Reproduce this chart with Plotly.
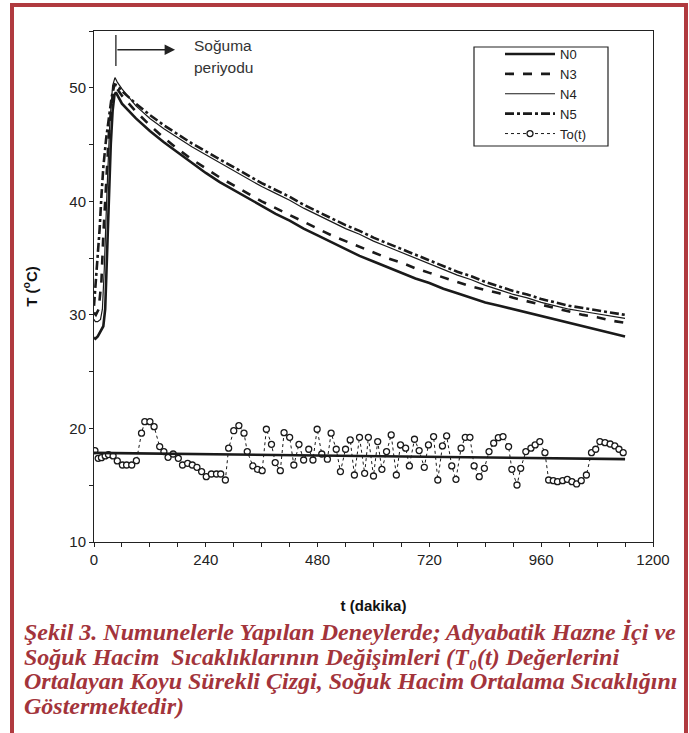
import plotly.graph_objects as go

# ---------------- data ----------------
n0_t = [0, 3, 8, 14, 20, 24, 28, 32, 36, 40, 44, 47, 60, 90, 120, 150, 180, 210, 240, 270, 300, 330, 360, 390, 420, 450, 480, 510, 540, 570, 600, 630, 660, 690, 720, 750, 780, 810, 840, 870, 900, 930, 960, 990, 1020, 1050, 1080, 1110, 1140]
n0_v = [28.0, 27.9, 28.1, 28.5, 29.0, 30.5, 36.0, 41.0, 45.0, 48.0, 49.4, 49.6, 48.6, 47.3, 46.2, 45.2, 44.3, 43.4, 42.5, 41.7, 41.0, 40.3, 39.6, 38.9, 38.3, 37.6, 37.0, 36.4, 35.8, 35.2, 34.7, 34.2, 33.7, 33.2, 32.8, 32.3, 31.9, 31.5, 31.1, 30.8, 30.5, 30.2, 29.9, 29.6, 29.3, 29.0, 28.7, 28.4, 28.1]

n3_t = [0, 4, 10, 16, 20, 26, 32, 38, 44, 48, 60, 90, 120, 150, 180, 210, 240, 270, 300, 330, 360, 390, 420, 450, 480, 510, 540, 570, 600, 630, 660, 690, 720, 750, 780, 810, 840, 870, 900, 930, 960, 990, 1020, 1050, 1080, 1110, 1140]
n3_v = [30.2, 30.0, 30.5, 33.0, 37.0, 42.0, 46.0, 48.5, 49.8, 50.0, 49.3, 47.9, 46.7, 45.6, 44.6, 43.7, 42.9, 42.1, 41.4, 40.7, 40.0, 39.4, 38.8, 38.2, 37.6, 37.0, 36.5, 36.0, 35.5, 35.0, 34.6, 34.1, 33.7, 33.3, 32.9, 32.5, 32.2, 31.9, 31.5, 31.2, 30.9, 30.6, 30.3, 30.0, 29.8, 29.5, 29.3]

n4_t = [0, 3, 8, 14, 18, 22, 28, 34, 40, 45, 50, 60, 90, 120, 150, 180, 210, 240, 270, 300, 330, 360, 390, 420, 450, 480, 510, 540, 570, 600, 630, 660, 690, 720, 750, 780, 810, 840, 870, 900, 930, 960, 990, 1020, 1050, 1080, 1110, 1140]
n4_v = [29.6, 29.4, 29.4, 29.6, 30.5, 34.0, 41.0, 47.0, 50.2, 50.9, 50.5, 49.9, 48.4, 47.3, 46.4, 45.6, 44.8, 44.1, 43.4, 42.7, 42.0, 41.3, 40.7, 40.1, 39.4, 38.8, 38.2, 37.6, 37.1, 36.5, 36.0, 35.5, 35.0, 34.5, 34.0, 33.5, 33.1, 32.6, 32.2, 31.8, 31.5, 31.1, 30.8, 30.5, 30.3, 30.1, 29.9, 29.7]

n5_t = [0, 4, 8, 12, 16, 20, 26, 32, 38, 44, 50, 60, 90, 120, 150, 180, 210, 240, 270, 300, 330, 360, 390, 420, 450, 480, 510, 540, 570, 600, 630, 660, 690, 720, 750, 780, 810, 840, 870, 900, 930, 960, 990, 1020, 1050, 1080, 1110, 1140]
n5_v = [30.8, 33.0, 35.0, 37.5, 40.5, 43.0, 45.5, 47.5, 49.2, 50.3, 50.2, 49.7, 48.6, 47.6, 46.7, 45.9, 45.1, 44.4, 43.7, 43.0, 42.3, 41.6, 41.0, 40.4, 39.7, 39.1, 38.5, 37.9, 37.4, 36.8, 36.3, 35.8, 35.3, 34.8, 34.3, 33.8, 33.4, 32.9, 32.5, 32.1, 31.8, 31.4, 31.1, 30.8, 30.6, 30.4, 30.2, 30.0]

to_t = [2, 9, 16, 24, 31, 41, 50, 61, 70, 81, 91, 102, 109, 120, 129, 141, 150, 159, 170, 181,
        190, 201, 211, 221, 231, 241, 252, 263, 272, 282, 289, 300, 311, 322, 329, 341, 351, 361, 370, 381,
        389, 400, 408, 420, 429, 440, 450, 461, 470, 479, 489, 501, 509, 520, 529, 540, 550, 559, 570, 581,
        589, 600, 609, 618, 628, 638, 649, 658, 669, 677, 688, 698, 709, 718, 729, 738, 748, 757, 768, 777,
        788, 797, 807, 816, 827, 838, 848, 858, 868, 878, 890, 897, 908, 916, 927, 938, 947, 957, 968, 976,
        986, 995, 1006, 1016, 1026, 1036, 1046, 1057, 1068, 1077, 1086, 1097, 1108, 1118, 1127, 1136]
to_v = [18.05, 17.37, 17.43, 17.58, 17.7, 17.58, 17.14, 16.78, 16.78, 16.78, 17.16, 19.58, 20.6, 20.6, 20.16, 18.4, 17.96, 17.46, 17.75, 17.37,
        16.78, 16.93, 16.78, 16.58, 16.2, 15.75, 15.99, 15.99, 15.99, 15.46, 18.26, 19.8, 20.25, 19.58, 17.96, 16.7, 16.4, 16.28, 19.93, 18.6,
        16.99, 16.28, 19.63, 19.22, 16.78, 18.6, 17.22, 18.17, 17.22, 19.93, 17.75, 17.29, 19.58, 18.17, 16.2, 18.17, 18.99, 15.9, 19.22, 16.05,
        19.22, 15.81, 18.84, 16.4, 17.96, 19.43, 15.9, 18.55, 18.26, 16.7, 19.05, 18.05, 16.58, 18.55, 19.28, 15.46, 18.46, 19.34, 16.7, 15.52,
        18.26, 19.22, 19.22, 16.7, 15.75, 16.49, 17.96, 18.7, 19.19, 19.28, 18.4, 16.4, 15.02, 16.49, 17.96, 18.26, 18.55, 18.84, 17.87, 15.46,
        15.4, 15.31, 15.4, 15.52, 15.31, 15.11, 15.4, 15.9, 17.87, 18.17, 18.84, 18.75, 18.63, 18.46, 18.17, 17.87]

mean_t = [0, 1140]
mean_v = [17.85, 17.3]

period_start = 47
period_arrow_end = 174

caption_lines = [
    "<b><i>Şekil 3. Numunelerle Yapılan Deneylerde; Adyabatik Hazne İçi ve</i></b>",
    "<b><i>Soğuk Hacim  Sıcaklıklarının Değişimleri (T₀(t) Değerlerini</i></b>",
    "<b><i>Ortalayan Koyu Sürekli Çizgi, Soğuk Hacim Ortalama Sıcaklığını</i></b>",
    "<b><i>Göstermektedir)</i></b>",
]

# ---------------- figure ----------------
W, H = 689, 733
L, R, T, B = 94, 653, 31, 542
pw, ph = R - L, B - T


def px(x):
    return (x - L) / pw


def py(y):
    return (B - y) / ph


fig = go.Figure()
ink = "#1a1a1a"
fig.add_trace(go.Scatter(x=n0_t, y=n0_v, name="N0", mode="lines",
                         line=dict(color=ink, width=2.6)))
fig.add_trace(go.Scatter(x=n3_t, y=n3_v, name="N3", mode="lines",
                         line=dict(color=ink, width=2.6, dash="dash")))
fig.add_trace(go.Scatter(x=n4_t, y=n4_v, name="N4", mode="lines",
                         line=dict(color=ink, width=1.2)))
fig.add_trace(go.Scatter(x=n5_t, y=n5_v, name="N5", mode="lines",
                         line=dict(color=ink, width=2.6, dash="dashdot")))
fig.add_trace(go.Scatter(x=to_t, y=to_v, name="To(t)", mode="lines+markers",
                         line=dict(color=ink, width=1, dash="dot"),
                         marker=dict(symbol="circle", size=6, color="white",
                                     line=dict(color=ink, width=1.3))))
fig.add_trace(go.Scatter(x=mean_t, y=mean_v, mode="lines", showlegend=False,
                         line=dict(color=ink, width=2.6)))

tickfont = dict(family="Liberation Sans, Arial", size=15, color="#222")
fig.update_xaxes(range=[0, 1200], dtick=240, tick0=0, showgrid=False, zeroline=False,
                 showline=True, linecolor="#222", linewidth=1, mirror=True,
                 ticks="outside", ticklen=4, tickcolor="#222",
                 minor=dict(dtick=60, ticks="outside", ticklen=4, tickcolor="#222"),
                 tickfont=tickfont,
                 title=dict(text="<b>t (dakika)</b>", standoff=33,
                            font=dict(family="Liberation Sans, Arial", size=15, color="#111")))
fig.update_yaxes(range=[10, 55], dtick=10, tick0=10, showgrid=False, zeroline=False,
                 showline=True, linecolor="#222", linewidth=1, mirror=True,
                 ticks="outside", ticklen=4, tickcolor="#222",
                 minor=dict(dtick=5, ticks="outside", ticklen=4, tickcolor="#222"),
                 tickfont=tickfont,
                 title=dict(text="<b>T (<sup>o</sup>C)</b>", standoff=28,
                            font=dict(family="Liberation Sans, Arial", size=15, color="#111")))

shapes = [
    # legend box
    dict(type="rect", xref="paper", yref="paper", x0=px(474), x1=px(608), y0=py(146), y1=py(47),
         line=dict(color="#222", width=1.2), fillcolor="rgba(0,0,0,0)"),
    # red frame round the whole figure
    dict(type="rect", xref="paper", yref="paper", x0=px(12), x1=px(686), y0=py(745), y1=py(5),
         line=dict(color="#b03a3f", width=4), fillcolor="rgba(0,0,0,0)"),
    # start of cooling period marker
    dict(type="line", xref="x", yref="paper", x0=period_start, x1=period_start, y0=py(66), y1=py(35),
         line=dict(color="#222", width=1.3)),
]

annotations = [
    dict(x=period_arrow_end, y=53.35, ax=period_start, ay=53.35, xref="x", yref="y", axref="x", ayref="y",
         text="", showarrow=True, arrowhead=2, arrowsize=1.3, arrowwidth=1.6, arrowcolor="#222"),
    dict(x=px(192), y=py(45), xref="paper", yref="paper", text="Soğuma", showarrow=False,
         xanchor="left", yanchor="middle", font=dict(family="Liberation Sans, Arial", size=15.5, color="#333")),
    dict(x=px(192), y=py(67), xref="paper", yref="paper", text="periyodu", showarrow=False,
         xanchor="left", yanchor="middle", font=dict(family="Liberation Sans, Arial", size=15.5, color="#333")),
]
cap_y = [632, 657, 681, 706]
for txt, yy in zip(caption_lines, cap_y):
    annotations.append(dict(x=px(22), y=py(yy), xref="paper", yref="paper", text=txt, showarrow=False,
                            xanchor="left", yanchor="middle",
                            font=dict(family="Liberation Serif, Times New Roman", size=24, color="#a3343b")))

fig.update_layout(
    width=W, height=H,
    margin=dict(l=L, r=W - R, t=T, b=H - B, pad=0, autoexpand=False),
    paper_bgcolor="white", plot_bgcolor="white",
    shapes=shapes, annotations=annotations,
    legend=dict(x=px(500), y=py(39), xanchor="left", yanchor="top",
                bgcolor="rgba(0,0,0,0)", borderwidth=0,
                font=dict(family="Liberation Sans, Arial", size=13, color="#222"),
                itemwidth=50, tracegroupgap=0),
    showlegend=True,
)

fig.write_html("out.html", config={"displayModeBar": False},
               post_script="document.body.style.margin='0px';")
